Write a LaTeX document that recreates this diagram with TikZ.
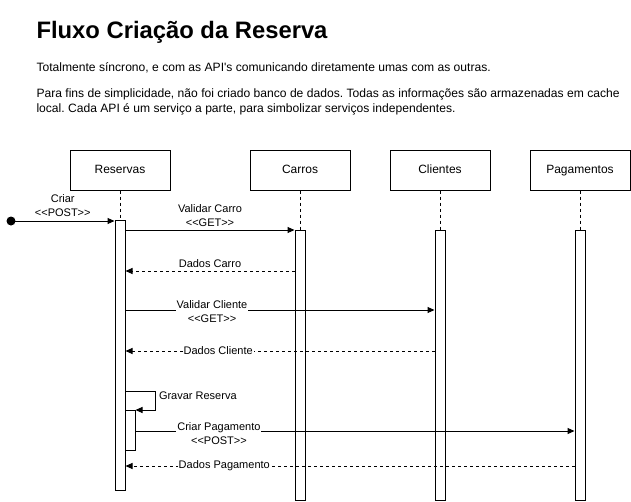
\documentclass[tikz,border=0pt]{standalone}
\usepackage{fontspec}
\setmainfont{Liberation Sans}[Ligatures=TeXOff]
\usetikzlibrary{arrows.meta, positioning}

\tikzset{
  ator/.style={draw, fill=white, minimum width=100pt, minimum height=40pt, inner sep=0pt, text height=9pt, text depth=2.5pt, font=\fontsize{12}{14}\selectfont},
  ativ/.style={draw, fill=white, minimum width=10pt, inner sep=0pt, anchor=north},
  vida/.style={dash pattern=on 3pt off 3pt},
  msg/.style={->},
  retorno/.style={->, dash pattern=on 3pt off 3pt},
  rotulo/.style={font=\fontsize{11}{14}\selectfont, align=center, inner sep=1pt},
  texto/.style={anchor=base west, inner sep=0pt, font=\fontsize{12.1}{15}\selectfont}
}

\begin{document}
\frenchspacing
\begin{tikzpicture}[>={Triangle[length=7pt,width=6pt]}, x=1pt, y=-1pt, line width=1pt]
    \useasboundingbox (0,0) rectangle (631,501);

    % 1. Título e descrição
    \node[texto, font=\bfseries\fontsize{23.8}{28}\selectfont] (titulo) at (36,38) {Fluxo Criação da Reserva};
    \node[texto] (desc1) at (36,71) {Totalmente síncrono, e com as API's comunicando diretamente umas com as outras.};
    \node[texto] (desc2) at (36,97) {Para fins de simplicidade, não foi criado banco de dados. Todas as informações são armazenadas em cache};
    \node[texto] (desc3) at (36,112) {local. Cada API é um serviço a parte, para simbolizar serviços independentes.};

    % 2. Participantes
    \node[ator] (res) at (120,170) {Reservas};
    \node[ator] (car) at (300,170) {Carros};
    \node[ator] (cli) at (440,170) {Clientes};
    \node[ator] (pag) at (580,170) {Pagamentos};

    % 3. Linhas de vida e ativações
    \node[ativ, minimum height=270pt] (atRes) at (120,220) {};
    \node[ativ, minimum height=270pt] (atCar) at (300,230) {};
    \node[ativ, minimum height=270pt] (atCli) at (440,230) {};
    \node[ativ, minimum height=270pt] (atPag) at (580,230) {};
    \node[ativ, minimum height=40pt] (atGrav) at (130,410) {};
    \draw[vida] (res.south) -- (atRes.north);
    \draw[vida] (car.south) -- (atCar.north);
    \draw[vida] (cli.south) -- (atCli.north);
    \draw[vida] (pag.south) -- (atPag.north);

    % 4. Mensagens
    \coordinate (inicio) at (11,221);
    \coordinate (m1) at (0,230);
    \coordinate (m2) at (0,271);
    \coordinate (m3) at (0,310);
    \coordinate (m4) at (0,351);
    \coordinate (m5) at (0,391);
    \coordinate (m6) at (0,431);
    \coordinate (m7) at (0,466);

    \fill (inicio) circle (4.5pt);
    \draw[msg] (inicio) -- node[rotulo, above=3pt] {Criar\\<{}<POST>{}>} (atRes.west |- inicio);

    \draw[msg] (atRes.east |- m1) -- node[rotulo, above=2pt] {Validar Carro\\<{}<GET>{}>} (atCar.west |- m1);
    \draw[retorno] (atCar.west |- m2) -- node[rotulo, above=2pt] {Dados Carro} (atRes.east |- m2);

    \draw[msg] (atRes.east |- m3) -- node[rotulo, fill=white, pos=0.28, yshift=-2pt] {Validar Cliente\\<{}<GET>{}>} (atCli.west |- m3);
    \draw[retorno] (atCli.west |- m4) -- node[rotulo, fill=white, pos=0.70] {Dados Cliente} (atRes.east |- m4);

    \draw[msg] (atRes.east |- m5) -- ++(30,0)
        node[rotulo, anchor=west, xshift=2pt, yshift=-5pt] {Gravar Reserva}
        |- (atGrav.north east);

    \draw[msg] (atGrav.east |- m6) -- node[rotulo, fill=white, pos=0.19, yshift=-3pt] {Criar Pagamento\\<{}<POST>{}>} (atPag.west |- m6);
    \draw[retorno] (atPag.west |- m7) -- node[rotulo, fill=white, pos=0.78] {Dados Pagamento} (atRes.east |- m7);
\end{tikzpicture}
\end{document}
